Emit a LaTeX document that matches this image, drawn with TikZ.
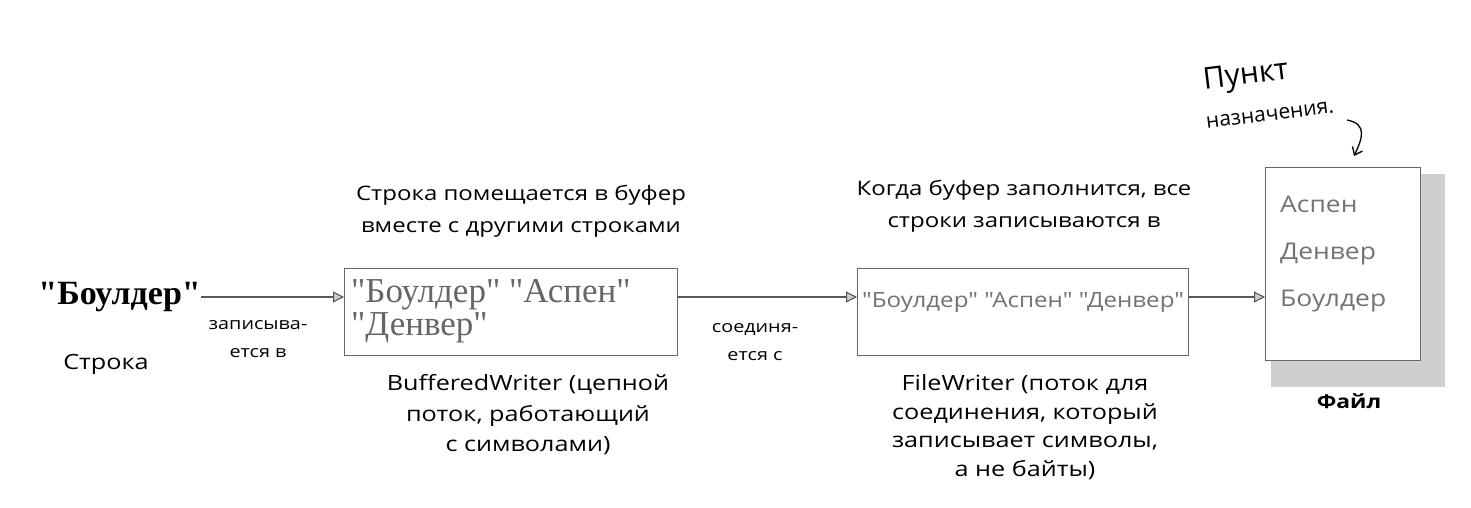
\documentclass[tikz,border=0pt]{standalone}
\usepackage{fontspec}
\setmainfont{Liberation Serif}[Ligatures=TeXOff]
\newfontfamily\comic{Open Sans}[FakeStretch=1.2]
\newfontfamily\gothic{Open Sans}[FakeStretch=1.15]
\newfontfamily\handf{Open Sans}
\usetikzlibrary{arrows.meta}
\begin{document}
\begin{tikzpicture}[x=1pt,y=-1pt,
  lbl/.style={font=\comic\fontsize{20}{32}\selectfont, align=center, inner sep=0},
  small/.style={font=\comic\fontsize{16.5}{28}\selectfont, align=center, inner sep=0},
  box/.style={draw=black!60, line width=1.2pt, inner sep=0},
  conn/.style={draw=black!65, line width=1.1pt, -{Triangle[open,fill=gray!40,length=11pt,width=11pt]}},
  inner/.style={text=black!55, inner sep=0},
  hand/.style={font=\handf\fontsize{30}{30}\selectfont, inner sep=0}]
\useasboundingbox[fill=white] (0,0) rectangle (1471,507);

% boxes
\node[box, minimum width=333, minimum height=87, anchor=north west] (buf) at (344,268) {};
\node[box, minimum width=331, minimum height=87, anchor=north west] (fw) at (857,268) {};
\fill[gray!38] (1271,174) rectangle (1445,387);
\node[box, fill=white, minimum width=155, minimum height=193, anchor=north west] (file) at (1265,167) {};

% left string
\node[font=\bfseries\fontsize{34}{36}\selectfont, anchor=east, inner sep=0] (str) at (201,297) {"Боулдер"};
\node[lbl, font=\comic\fontsize{21}{24}\selectfont] (strlbl) at (106,364) {Строка};

% box contents
\node[inner, text=black!60, font=\fontsize{35}{33}\selectfont, anchor=north west, align=left] (buftxt) at (351,279) {"Боулдер" "Аспен"\\"Денвер"};
\node[inner, font=\gothic\fontsize{21}{24}\selectfont] (fwtxt) at (1023,302) {"Боулдер" "Аспен" "Денвер"};
\node[inner, font=\gothic\fontsize{23}{47}\selectfont, anchor=north west, align=left] (filetxt) at (1280,196) {Аспен\\Денвер\\Боулдер};

% connectors
\draw[conn] (str.east) -- (str.east -| buf.west);
\draw[conn] (str.east -| buf.east) -- (str.east -| fw.west);
\draw[conn] (str.east -| fw.east) -- (str.east -| file.west);

% labels
\node[small] (l1) at (258,339) {записыва-\\ется в};
\node[small] (l2) at (755,342) {соединя-\\ется с};
\node[lbl] (buftop) at (521,211) {Строка помещается в буфер\\вместе с другими строками};
\node[lbl, font=\comic\fontsize{21}{30.5}\selectfont] (bufbot) at (528,415) {BufferedWriter (цепной\\поток, работающий\\с символами)};
\node[lbl] (fwtop) at (1024,206) {Когда буфер заполнится, все\\строки записываются в};
\node[lbl, font=\comic\fontsize{21}{28.5}\selectfont] (fwbot) at (1025,427) {FileWriter (поток для\\соединения, который\\записывает символы,\\а не байты)};
\node[lbl, font=\comic\bfseries\fontsize{19}{24}\selectfont] (filelbl) at (1349,401) {Файл};

% handwritten note
\node[hand, rotate=7] (note1) at (1246,77) {Пункт};
\node[hand, rotate=7, font=\handf\fontsize{21}{30}\selectfont] (note2) at (1270,115) {назначения.};
\coordinate (ns) at (1347,120);
\draw[line width=1.3pt, -{Straight Barb[length=7pt,width=11pt]}] (ns) .. controls (1368,124) and (1362,139) .. (1354,156);
\end{tikzpicture}
\end{document}
